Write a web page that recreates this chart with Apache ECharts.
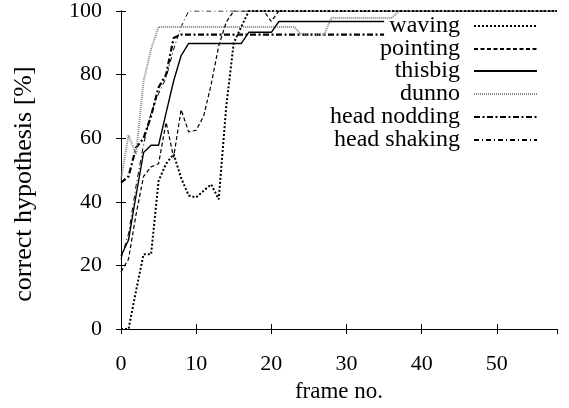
<!DOCTYPE html>
<html>
<head>
<meta charset="utf-8">
<script src="https://cdn.jsdelivr.net/npm/echarts@6/dist/echarts.min.js"></script>
<style>
  html, body { margin: 0; padding: 0; background: #fff; }
  #chart { width: 569px; height: 408px; }
</style>
</head>
<body>
<div id="chart"></div>
<script>
// values per frame (index = frame no.)
var waving = [0, 0, 12, 23.5, 23.5, 46.6, 52, 55, 47.5, 42, 41.4, 43.5, 45.5, 40.8, 70, 90, 95,
  100, 100, 100, 100, 100, 100, 100, 100, 100, 100, 100, 100, 100, 100, 100, 100, 100, 100, 100,
  100, 100, 100, 100, 100, 100, 100, 100, 100, 100, 100, 100, 100, 100, 100, 100, 100, 100, 100,
  100, 100, 100, 100];
var pointing = [18, 22, 36, 48, 51, 52, 65, 54, 69, 62, 62.5, 67, 77, 89, 96.5, 100, 100, 100, 100,
  100, 96.7, 100, 100, 100, 100, 100, 100, 100, 100, 100, 100, 100, 100, 100, 100, 100, 100, 100,
  100, 100, 100, 100, 100, 100, 100, 100, 100, 100, 100, 100, 100, 100, 100, 100, 100, 100, 100,
  100, 100];
var thisbig = [23, 28, 42, 55.5, 57.8, 57.8, 68, 78, 86, 89.8, 89.8, 89.8, 89.8, 89.8, 89.8, 89.8,
  89.8, 93.3, 93.3, 93.3, 93.3, 96.7, 96.7, 96.7, 96.7, 96.7, 96.7, 96.7, 96.7, 96.7, 96.7, 96.7,
  96.7, 96.7, 96.7, 96.7];
var dunno = [47, 61, 55, 78, 88, 95, 95, 95, 95, 95, 95, 95, 95, 95, 95, 95, 95, 95, 95, 95, 95,
  95, 95, 95, 92.6, 92.6, 92.6, 92.6, 97.8, 97.8, 97.8, 97.8, 97.8, 97.8, 97.8, 97.8, 97.8, 100,
  100, 100, 100, 100, 100, 100, 100, 100, 100, 100, 100, 100, 100, 100, 100, 100, 100, 100, 100,
  100, 100];
var headNodding = [46, 48, 57, 60, 67, 76, 80, 91.5, 92.6, 92.6, 92.6, 92.6, 92.6, 92.6, 92.6, 92.6,
  92.6, 92.6, 92.6, 92.6, 92.6, 92.6, 92.6, 92.6, 92.6, 92.6, 92.6, 92.6, 92.6, 92.6, 92.6, 92.6,
  92.6, 92.6, 92.6, 92.6];
var headShaking = [22, 30, 45, 58, 68, 74, 79, 88, 95, 100, 100, 100, 100, 100, 100, 100, 100, 100,
  100, 100, 100, 100, 100, 100, 100, 100, 100, 100, 100, 100, 100, 100, 100, 100, 100, 100, 100,
  100, 100, 100, 100, 100, 100, 100, 100, 100, 100, 100, 100, 100, 100, 100, 100, 100, 100, 100,
  100, 100, 100];

var names = ['waving', 'pointing', 'thisbig', 'dunno', 'head nodding', 'head shaking'];
var xTicks = [0, 58, 10];   // min, max, step
var yTicks = [0, 100, 20];

var FONT = 'Liberation Serif';

function toPoints(vals) {
  return vals.map(function (v, i) { return [i, v]; });
}

var styles = [
  { color: '#000', width: 2, type: [2, 2] },
  { color: '#000', width: 1.2, type: [4, 2.5] },
  { color: '#000', width: 1.4, type: 'solid' },
  { color: '#888', width: 2, type: [1, 1] },
  { color: '#000', width: 2.2, type: [6, 2.5, 2, 2.5] },
  { color: '#000', width: 1, type: [5, 3, 1, 3] }
];
var allData = [waving, pointing, thisbig, dunno, headNodding, headShaking];

var series = names.map(function (n, k) {
  return {
    name: n,
    type: 'line',
    symbol: 'none',
    showSymbol: false,
    data: toPoints(allData[k]),
    itemStyle: { color: styles[k].color },
    lineStyle: { color: styles[k].color, width: styles[k].width, type: styles[k].type },
    z: 10 - k
  };
});

var legendRows = [27, 50, 72, 95, 118, 141];
var legends = names.map(function (n, k) {
  return {
    data: [n],
    orient: 'vertical',
    align: 'right',
    right: 31,
    top: legendRows[k] - 13,
    itemWidth: 63,
    itemHeight: 14,
    padding: 0,
    itemStyle: { opacity: 0 },
    textStyle: { fontFamily: FONT, fontSize: 24, color: '#000', padding: [0, 9, 0, 0] },
    selectedMode: false
  };
});

function axisCommon(extra) {
  var base = {
    type: 'value',
    splitLine: { show: false },
    axisLine: { show: true, lineStyle: { color: '#000', width: 1 } },
    axisTick: { show: true, inside: true, length: 5, lineStyle: { color: '#000' } },
    axisLabel: { show: false }
  };
  for (var key in extra) base[key] = extra[key];
  return base;
}

var chart = echarts.init(document.getElementById('chart'));
chart.setOption({
  animation: false,
  backgroundColor: '#fff',
  grid: { left: 121, right: 12, top: 10, bottom: 74 },
  legend: legends,
  xAxis: [
    axisCommon({
      position: 'bottom', min: xTicks[0], max: xTicks[1], interval: xTicks[2],
      axisLabel: { show: true, showMaxLabel: false, margin: 24, fontFamily: FONT, fontSize: 22, color: '#000' },
      name: 'frame no.', nameLocation: 'middle', nameGap: 37,
      nameTextStyle: { fontFamily: FONT, fontSize: 23, color: '#000' }
    }),
    axisCommon({ position: 'top', min: xTicks[0], max: xTicks[1], interval: xTicks[2] })
  ],
  yAxis: [
    axisCommon({
      position: 'left', min: yTicks[0], max: yTicks[1], interval: yTicks[2],
      axisLabel: { show: true, margin: 19, fontFamily: FONT, fontSize: 22, color: '#000' },
      name: 'correct hypothesis [%]', nameLocation: 'middle', nameGap: 84,
      nameTextStyle: { fontFamily: FONT, fontSize: 26, color: '#000', padding: [0, 28, 0, 0] }
    }),
    axisCommon({ position: 'right', min: yTicks[0], max: yTicks[1], interval: yTicks[2] })
  ],
  series: series
});
</script>
</body>
</html>
